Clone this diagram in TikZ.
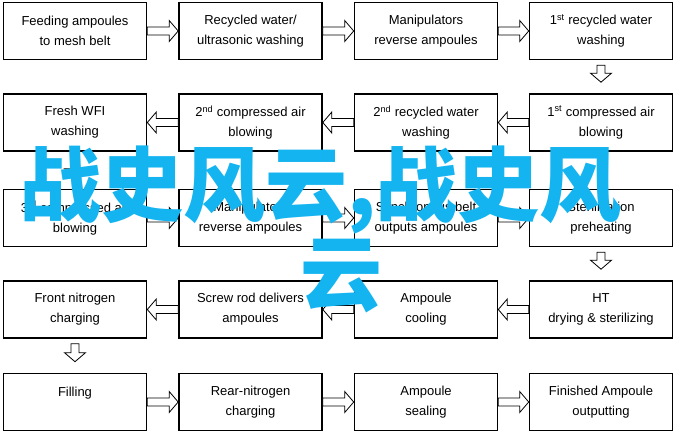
\documentclass[tikz,border=0pt]{standalone}
\usepackage{fontspec}
\setmainfont{Liberation Sans}
\newfontfamily\cjkfont{Noto Sans CJK SC}
\usetikzlibrary{calc}
\definecolor{wmcyan}{RGB}{20,180,240}
\begin{document}
\begin{tikzpicture}[x=1bp,y=-1bp,
  box/.style={draw=black,line width=1.6bp,minimum width=143bp,minimum height=57bp,
    align=center,inner sep=0pt,font=\fontsize{13bp}{20bp}\selectfont},
  blk/.style={draw=black,line width=0.8bp,fill=white,line join=miter,
    to path={
      ($(\tikztotarget)!9bp!(\tikztostart)$) coordinate (bh)
      ($(\tikztostart)!4bp!90:(\tikztotarget)$) -- ($(bh)!4bp!90:(\tikztotarget)$)
      -- ($(bh)!10.5bp!90:(\tikztotarget)$) -- (\tikztotarget)
      -- ($(bh)!10.5bp!-90:(\tikztotarget)$) -- ($(bh)!4bp!-90:(\tikztotarget)$)
      -- ($(\tikztostart)!4bp!-90:(\tikztotarget)$) -- cycle}},
  overlay text/.style={anchor=base west,inner sep=0pt,text=wmcyan,
    font=\cjkfont\bfseries\fontsize{82bp}{89bp}\selectfont}
]
\useasboundingbox[fill=white] (0,0) rectangle (683,436);

% row 1
\node[box] (a1) at (75,31) {Feeding ampoules\\to mesh belt};
\node[box] (a2) at (250.5,31) {Recycled water/\\ultrasonic washing};
\node[box] (a3) at (426,31) {Manipulators\\reverse ampoules};
\node[box] (a4) at (601,31) {1\textsuperscript{st} recycled water\\washing};
% row 2
\node[box] (b1) at (75,122.5) {Fresh WFI\\washing};
\node[box] (b2) at (250.5,122.5) {2\textsuperscript{nd} compressed air\\blowing};
\node[box] (b3) at (426,122.5) {2\textsuperscript{nd} recycled water\\washing};
\node[box] (b4) at (601,122.5) {1\textsuperscript{st} compressed air\\blowing};
% row 3
\node[box] (c1) at (75,218) {3\textsuperscript{rd} compressed air\\blowing};
\node[box] (c2) at (250.5,218) {Manipulators\\reverse ampoules};
\node[box] (c3) at (426,218) {Synchronous belt\\outputs ampoules};
\node[box] (c4) at (601,218) {Sterilization\\preheating};
% row 4
\node[box] (d1) at (75,309.5) {Front nitrogen\\charging};
\node[box] (d2) at (250.5,309.5) {Screw rod delivers\\ampoules};
\node[box] (d3) at (426,309.5) {Ampoule\\cooling};
\node[box] (d4) at (601,309.5) {HT\\drying \& sterilizing};
% row 5
\node[box] (e1) at (75,402) {Filling\\\mbox{}};
\node[box] (e2) at (250.5,402) {Rear-nitrogen\\charging};
\node[box] (e3) at (426,402) {Ampoule\\sealing};
\node[box] (e4) at (601,402) {Finished Ampoule\\outputting};

% horizontal arrows
\draw[blk] (a1.east) to (a2.west);
\draw[blk] (a2.east) to (a3.west);
\draw[blk] (a3.east) to (a4.west);
\draw[blk] (b4.west) to (b3.east);
\draw[blk] (b3.west) to (b2.east);
\draw[blk] (b2.west) to (b1.east);
\draw[blk] (c1.east) to (c2.west);
\draw[blk] (c2.east) to (c3.west);
\draw[blk] (c3.east) to (c4.west);
\draw[blk] (d4.west) to (d3.east);
\draw[blk] (d3.west) to (d2.east);
\draw[blk] (d2.west) to (d1.east);
\draw[blk] (e1.east) to (e2.west);
\draw[blk] (e2.east) to (e3.west);
\draw[blk] (e3.east) to (e4.west);

% vertical arrows
\coordinate (v1s) at ($(a4.south)+(0,5)$);
\coordinate (v1e) at ($(b4.north)+(0,-11)$);
\coordinate (v2s) at ($(b1.south)+(0,5)$);
\coordinate (v2e) at ($(c1.north)+(0,-11)$);
\coordinate (v3s) at ($(c4.south)+(0,5)$);
\coordinate (v3e) at ($(d4.north)+(0,-11)$);
\coordinate (v4s) at ($(d1.south)+(0,5)$);
\coordinate (v4e) at ($(e1.north)+(0,-11)$);
\draw[blk] (v1s) to (v1e);
\draw[blk] (v2s) to (v2e);
\draw[blk] (v3s) to (v3e);
\draw[blk] (v4s) to (v4e);

% overlay text
\node[overlay text] (w1) at (19,216) {战史风云,战史风};
\node[overlay text] (w2) at (300,305) {云};
\end{tikzpicture}
\end{document}
